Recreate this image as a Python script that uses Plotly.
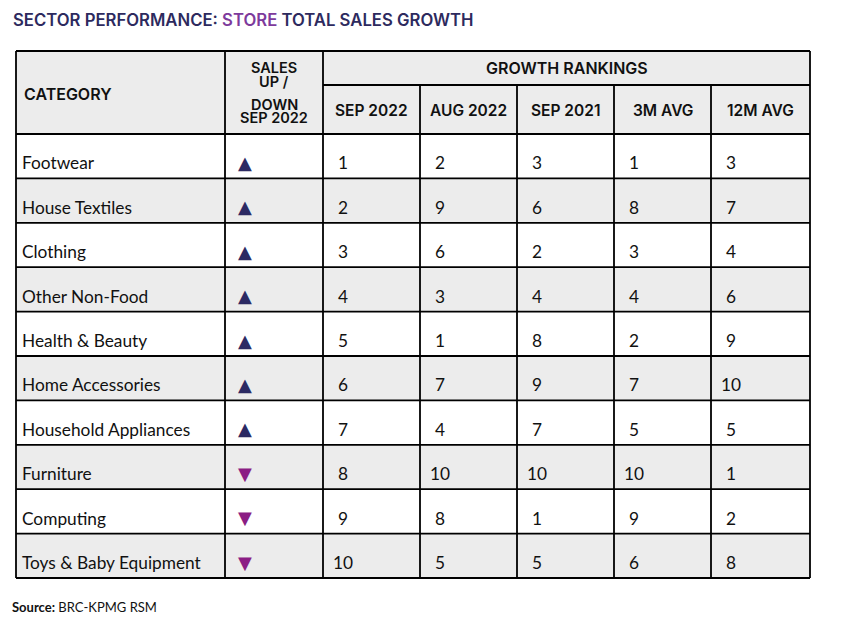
import plotly.graph_objects as go

# ---------------- data ----------------
categories = ["Footwear", "House Textiles", "Clothing", "Other Non-Food",
              "Health & Beauty", "Home Accessories", "Household Appliances",
              "Furniture", "Computing", "Toys & Baby Equipment"]
direction = ["up", "up", "up", "up", "up", "up", "up", "down", "down", "down"]
rank_headers = ["SEP 2022", "AUG 2022", "SEP 2021", "3M AVG", "12M AVG"]
sep_2022 = [1, 2, 3, 4, 5, 6, 7, 8, 9, 10]
aug_2022 = [2, 9, 6, 3, 1, 7, 4, 10, 8, 5]
sep_2021 = [3, 6, 2, 4, 8, 9, 7, 10, 1, 5]
avg_3m = [1, 8, 3, 4, 2, 7, 5, 10, 9, 6]
avg_12m = [3, 7, 4, 6, 9, 10, 5, 1, 2, 8]
rank_cols = [sep_2022, aug_2022, sep_2021, avg_3m, avg_12m]

# ---------------- style / layout ----------------
PAGE_W, PAGE_H, BODY_MARGIN = 844, 633, 8
W, H = PAGE_W - 2 * BODY_MARGIN, PAGE_H - 2 * BODY_MARGIN
col_edges = [16, 225, 323, 420, 517, 614, 711, 810]
top, mid, body_top, body_bot = 51, 85, 134, 578
n = len(categories)
row_h = (body_bot - body_top) / n
GRAY = "#ececec"
NAVY = "#2c2a63"
PURPLE = "#8b1d84"
TITLE_NAVY = "#2d2a5e"
TITLE_PURPLE = "#7d3a9c"
LINE = "#000000"
LW = 1.8
HEAD_FONT = "Inter"
BODY_FONT = "Lato"

fig = go.Figure()

shapes = []
shapes.append(dict(type="rect", x0=col_edges[0], x1=col_edges[-1], y0=top, y1=body_top,
                   fillcolor=GRAY, line_width=0, layer="below"))
for i in range(n):
    if i % 2 == 1:
        shapes.append(dict(type="rect", x0=col_edges[0], x1=col_edges[-1],
                           y0=body_top + i * row_h, y1=body_top + (i + 1) * row_h,
                           fillcolor=GRAY, line_width=0, layer="below"))
shapes.append(dict(type="line", x0=col_edges[0], x1=col_edges[-1], y0=top, y1=top))
shapes.append(dict(type="line", x0=col_edges[2], x1=col_edges[-1], y0=mid, y1=mid))
for i in range(n + 1):
    y = body_top + i * row_h
    shapes.append(dict(type="line", x0=col_edges[0], x1=col_edges[-1], y0=y, y1=y))
for j, x in enumerate(col_edges):
    y0 = mid if 3 <= j <= 6 else top
    shapes.append(dict(type="line", x0=x, x1=x, y0=y0, y1=body_bot))
for s in shapes:
    if s["type"] == "line":
        s["line"] = dict(color=LINE, width=LW)
    s["xref"] = "x"
    s["yref"] = "y"

# ---------------- body text ----------------
row_y = [body_top + i * row_h + 31 for i in range(n)]
tri_y = [body_top + i * row_h + 30.5 for i in range(n)]

fig.add_trace(go.Scatter(
    x=[col_edges[0] + 6] * n, y=row_y, text=categories, mode="text",
    textposition="middle right", textfont=dict(family=BODY_FONT, size=17.3, color="#111111"),
    hoverinfo="skip", showlegend=False))

tri_x = col_edges[1] + 20
up_idx = [i for i, d in enumerate(direction) if d == "up"]
dn_idx = [i for i, d in enumerate(direction) if d == "down"]
fig.add_trace(go.Scatter(
    x=[tri_x] * len(up_idx), y=[tri_y[i] for i in up_idx], text=["▲"] * len(up_idx),
    mode="text", textposition="middle center",
    textfont=dict(family="DejaVu Sans", size=18, color=NAVY),
    hoverinfo="skip", showlegend=False))
fig.add_trace(go.Scatter(
    x=[tri_x] * len(dn_idx), y=[tri_y[i] for i in dn_idx], text=["▼"] * len(dn_idx),
    mode="text", textposition="middle center",
    textfont=dict(family="DejaVu Sans", size=18, color=PURPLE),
    hoverinfo="skip", showlegend=False))

for j, vals in enumerate(rank_cols):
    cx = col_edges[2 + j] + 20
    fig.add_trace(go.Scatter(
        x=[cx] * n, y=row_y, text=[str(v) for v in vals], mode="text",
        textposition="middle center",
        textfont=dict(family=BODY_FONT, size=17.3, color="#111111"),
        hoverinfo="skip", showlegend=False))

# ---------------- header text ----------------
ann = []
hfont = dict(family=HEAD_FONT, size=16, color="#111111", weight=600)
sfont = dict(family=HEAD_FONT, size=15.5, color="#111111", weight=600)
cfont = dict(family=HEAD_FONT, size=14.5, color="#111111", weight=600)
ann.append(dict(x=col_edges[0] + 6, y=93.5, text="CATEGORY", xanchor="left", yanchor="middle",
                showarrow=False, font=hfont))
sales_lines = [("SALES", 67.5), ("UP /", 81), ("DOWN", 104.5), ("SEP 2022", 117.5)]
for t, y in sales_lines:
    ann.append(dict(x=(col_edges[1] + col_edges[2]) / 2, y=y, text=t, xanchor="center",
                    yanchor="middle", showarrow=False, font=cfont))
ann.append(dict(x=(col_edges[2] + col_edges[-1]) / 2, y=68, text="GROWTH RANKINGS",
                xanchor="center", yanchor="middle", showarrow=False, font=hfont))
for j, h in enumerate(rank_headers):
    ann.append(dict(x=(col_edges[2 + j] + col_edges[3 + j]) / 2, y=110, text=h,
                    xanchor="center", yanchor="middle", showarrow=False, font=sfont))
ann.append(dict(x=11, y=20, xanchor="left", yanchor="middle", showarrow=False,
                text=f"SECTOR PERFORMANCE: <span style='color:{TITLE_PURPLE}'>STORE</span> TOTAL SALES GROWTH",
                font=dict(family=HEAD_FONT, size=16.7, color=TITLE_NAVY, weight=600)))
ann.append(dict(x=10, y=607, xanchor="left", yanchor="middle", showarrow=False,
                text="<b>Source:</b> BRC-KPMG RSM",
                font=dict(family=BODY_FONT, size=13, color="#111111")))
for a in ann:
    a["xref"] = "x"
    a["yref"] = "y"

fig.update_layout(
    width=W, height=H, margin=dict(l=0, r=0, t=0, b=0),
    paper_bgcolor="white", plot_bgcolor="white",
    xaxis=dict(range=[BODY_MARGIN, BODY_MARGIN + W], visible=False, fixedrange=True),
    yaxis=dict(range=[BODY_MARGIN + H, BODY_MARGIN], visible=False, fixedrange=True),
    shapes=shapes, annotations=ann, showlegend=False)

fig.write_html("out.html")
